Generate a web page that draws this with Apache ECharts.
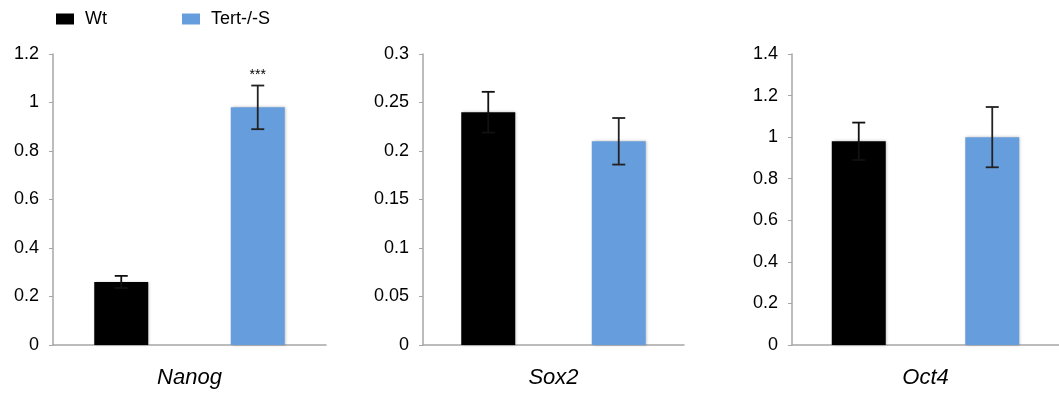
<!DOCTYPE html>
<html>
<head>
<meta charset="utf-8">
<script src="https://cdn.jsdelivr.net/npm/echarts@6/dist/echarts.min.js"></script>
<style>
html,body{margin:0;padding:0;background:#fff;}
#chart{width:1059px;height:396px;}
</style>
</head>
<body>
<div id="chart"></div>
<script>
const genes = ['Nanog', 'Sox2', 'Oct4'];
const groups = ['Wt', 'Tert-/-S'];
const wtValues = [0.26, 0.24, 0.98];
const wtErrors = [0.025, 0.021, 0.09];
const tertValues = [0.98, 0.21, 1.0];
const tertErrors = [0.09, 0.024, 0.145];
const tertSignificance = ['***', '', ''];
const yMax = [1.2, 0.3, 1.4];
const yInterval = [0.2, 0.05, 0.2];

const FONT = '"Liberation Sans", Arial, Helvetica, sans-serif';
const WT_COLOR = '#000000';
const TERT_COLOR = '#669ddc';
const AXIS_COLOR = '#a6a6a6';

const gridLayout = [
  {left: 53, width: 273},
  {left: 423, width: 261},
  {left: 792, width: 271}
];

const grids = [], xAxes = [], yAxes = [], series = [];

genes.forEach((gene, i) => {
  grids.push({left: gridLayout[i].left, width: gridLayout[i].width, top: 54, bottom: 51, containLabel: false});
  xAxes.push({
    type: 'category', gridIndex: i, data: groups,
    axisLine: {show: true, lineStyle: {color: AXIS_COLOR, width: 1.5}},
    axisTick: {show: false}, axisLabel: {show: false},
    name: gene, nameLocation: 'middle', nameGap: 22,
    nameTextStyle: {fontStyle: 'italic', fontSize: 22, color: '#000', fontFamily: FONT}
  });
  yAxes.push({
    type: 'value', gridIndex: i, min: 0, max: yMax[i], interval: yInterval[i],
    axisLine: {show: true, lineStyle: {color: AXIS_COLOR, width: 1.5}},
    axisTick: {show: true, length: 4, lineStyle: {color: AXIS_COLOR}},
    splitLine: {show: false},
    axisLabel: {fontSize: 18, color: '#000', fontFamily: FONT, margin: 14}
  });
  series.push({
    name: groups[0], type: 'bar', xAxisIndex: i, yAxisIndex: i,
    data: [wtValues[i], '-'], barWidth: 54, barGap: '-100%',
    itemStyle: {color: WT_COLOR, shadowColor: 'rgba(0,0,0,0.25)', shadowBlur: 3, shadowOffsetX: 1, shadowOffsetY: 0},
    silent: true
  });
  series.push({
    name: groups[1], type: 'bar', xAxisIndex: i, yAxisIndex: i,
    data: ['-', tertValues[i]], barWidth: 54, barGap: '-100%',
    itemStyle: {color: TERT_COLOR, shadowColor: 'rgba(0,0,0,0.25)', shadowBlur: 3, shadowOffsetX: 1, shadowOffsetY: 0},
    silent: true
  });
  const sig = ['', tertSignificance[i]];
  series.push({
    type: 'custom', xAxisIndex: i, yAxisIndex: i, silent: true, z: 10,
    data: [[0, wtValues[i], wtErrors[i]], [1, tertValues[i], tertErrors[i]]],
    renderItem: function (params, api) {
      const c = api.value(0), v = api.value(1), e = api.value(2);
      const top = api.coord([c, v + e]);
      const bot = api.coord([c, v - e]);
      const hw = 6.5;
      const col = params.dataIndex === 0 ? '#111' : '#222';
      const children = [
        {type: 'line', shape: {x1: top[0], y1: top[1], x2: bot[0], y2: bot[1]}, style: {stroke: col, lineWidth: 1.8}},
        {type: 'line', shape: {x1: top[0] - hw, y1: top[1], x2: top[0] + hw, y2: top[1]}, style: {stroke: col, lineWidth: 1.8}},
        {type: 'line', shape: {x1: bot[0] - hw, y1: bot[1], x2: bot[0] + hw, y2: bot[1]}, style: {stroke: col, lineWidth: 1.8}}
      ];
      const s = sig[params.dataIndex];
      if (s) {
        children.push({type: 'text', x: top[0], y: top[1] - 3, style: {text: s, fill: '#000', fontSize: 14, fontFamily: FONT, align: 'center', verticalAlign: 'bottom'}});
      }
      return {type: 'group', children: children};
    }
  });
});

const chart = echarts.init(document.getElementById('chart'), null, {renderer: 'canvas'});
chart.setOption({
  animation: false,
  backgroundColor: '#fff',
  legend: {
    data: groups, left: 51, top: 5, itemWidth: 18, itemHeight: 11, itemGap: 75,
    icon: 'rect',
    textStyle: {fontSize: 18, color: '#000', fontFamily: FONT, padding: [0, 0, 0, 6]}
  },
  grid: grids, xAxis: xAxes, yAxis: yAxes, series: series
});
</script>
</body>
</html>
